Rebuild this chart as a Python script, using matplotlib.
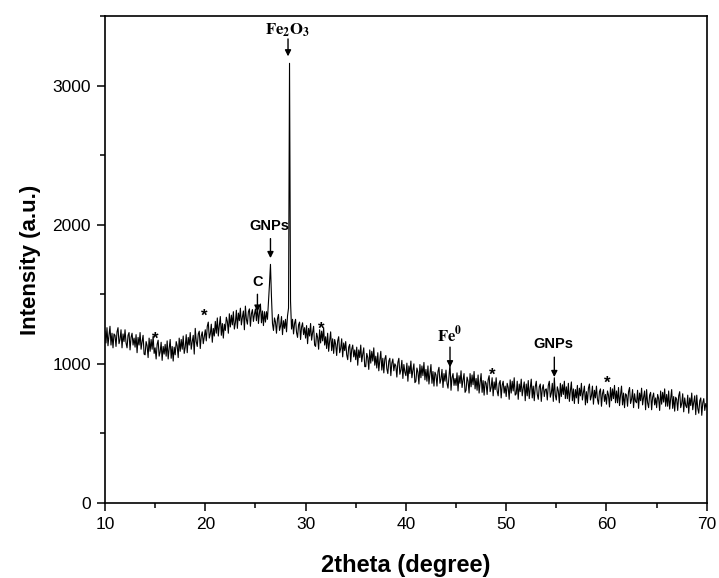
import numpy as np
import matplotlib
matplotlib.use("Agg")
import matplotlib.pyplot as plt
from matplotlib.ticker import MultipleLocator

plt.rcParams['font.family'] = ['Liberation Sans', 'DejaVu Sans']
plt.rcParams['mathtext.fontset'] = 'stix'

# 2theta from 10 to 70 in 0.1 degree steps
theta_start, theta_step = 10.0, 0.1
intensity = [
    1235, 1150, 1260, 1130, 1205, 1270, 1135, 1220, 1115, 1215,
    1205, 1125, 1230, 1260, 1145, 1175, 1245, 1115, 1215, 1160,
    1245, 1150, 1115, 1205, 1225, 1100, 1190, 1220, 1135, 1185,
    1120, 1210, 1080, 1190, 1135, 1225, 1105, 1160, 1205, 1070,
    1065, 1160, 1130, 1045, 1185, 1090, 1175, 1105, 1200, 1075,
    1115, 1035, 1140, 1170, 1055, 1085, 1155, 1025, 1125, 1070,
    1140, 1055, 1165, 1035, 1110, 1175, 1040, 1125, 1020, 1120,
    1065, 1160, 1130, 1045, 1185, 1090, 1175, 1105, 1200, 1075,
    1120, 1210, 1080, 1190, 1135, 1225, 1105, 1160, 1205, 1070,
    1255, 1160, 1125, 1215, 1235, 1110, 1200, 1230, 1145, 1195,
    1245, 1165, 1270, 1300, 1185, 1215, 1285, 1155, 1255, 1200,
    1305, 1220, 1330, 1200, 1275, 1340, 1205, 1290, 1185, 1285,
    1240, 1335, 1305, 1220, 1360, 1265, 1350, 1280, 1375, 1250,
    1295, 1385, 1255, 1365, 1310, 1400, 1280, 1335, 1380, 1245,
    1415, 1320, 1285, 1375, 1395, 1270, 1360, 1390, 1305, 1355,
    1395, 1310, 1420, 1290, 1365, 1430, 1295, 1380, 1275, 1375,
    1300, 1375, 1320, 1440, 1570, 1715, 1480, 1290, 1240, 1330,
    1300, 1220, 1325, 1355, 1240, 1270, 1340, 1210, 1310, 1255,
    1320, 1230, 1345, 1400, 3160, 1450, 1250, 1320, 1215, 1290,
    1320, 1225, 1190, 1280, 1300, 1175, 1265, 1295, 1210, 1260,
    1185, 1275, 1145, 1255, 1200, 1290, 1170, 1225, 1270, 1135,
    1125, 1220, 1190, 1105, 1245, 1150, 1235, 1165, 1260, 1135,
    1195, 1110, 1220, 1090, 1165, 1230, 1095, 1180, 1075, 1175,
    1140, 1060, 1165, 1195, 1080, 1110, 1180, 1050, 1150, 1095,
    1160, 1065, 1030, 1120, 1140, 1015, 1105, 1135, 1050, 1100,
    1030, 1120, 990, 1100, 1045, 1135, 1015, 1070, 1115, 980,
    980, 1075, 1045, 960, 1100, 1005, 1090, 1020, 1115, 990,
    1055, 970, 1080, 950, 1025, 1090, 955, 1040, 935, 1035,
    1060, 965, 930, 1020, 1040, 915, 1005, 1035, 950, 1000,
    985, 905, 1010, 1040, 925, 955, 1025, 895, 995, 940,
    915, 1005, 875, 985, 930, 1020, 900, 955, 1000, 865,
    875, 970, 940, 855, 995, 900, 985, 915, 1010, 885,
    960, 875, 985, 855, 930, 995, 860, 945, 840, 940,
    920, 840, 945, 975, 860, 890, 960, 830, 930, 875,
    955, 860, 825, 915, 1000, 810, 900, 930, 845, 895,
    845, 935, 805, 915, 860, 950, 830, 885, 930, 795,
    810, 905, 875, 790, 930, 835, 920, 850, 945, 820,
    895, 810, 920, 790, 865, 930, 795, 880, 775, 875,
    860, 780, 885, 915, 800, 830, 900, 770, 870, 815,
    900, 805, 770, 860, 880, 755, 845, 875, 790, 840,
    765, 860, 830, 745, 885, 790, 875, 805, 900, 775,
    785, 875, 745, 855, 800, 890, 770, 825, 870, 735,
    855, 770, 880, 750, 825, 890, 755, 840, 735, 835,
    875, 780, 745, 835, 855, 730, 820, 850, 765, 815,
    820, 740, 845, 875, 760, 790, 860, 730, 900, 775,
    740, 835, 805, 720, 860, 765, 850, 780, 875, 750,
    835, 750, 860, 730, 805, 870, 735, 820, 715, 815,
    755, 845, 715, 825, 770, 860, 740, 795, 840, 705,
    800, 720, 825, 855, 740, 770, 840, 710, 810, 755,
    840, 745, 710, 800, 820, 695, 785, 815, 730, 780,
    710, 805, 775, 690, 830, 735, 820, 750, 845, 720,
    805, 720, 830, 700, 775, 840, 705, 790, 685, 785,
    775, 695, 800, 830, 715, 745, 815, 685, 785, 730,
    720, 810, 680, 790, 735, 825, 705, 760, 805, 670,
    815, 720, 685, 775, 795, 670, 760, 790, 705, 755,
    685, 780, 750, 665, 805, 710, 795, 725, 820, 695,
    780, 695, 805, 675, 750, 815, 680, 765, 660, 760,
    745, 665, 770, 800, 685, 715, 785, 655, 755, 700,
    685, 775, 645, 755, 700, 790, 670, 725, 770, 635,
    775, 680, 645, 735, 755, 630, 720, 750, 665, 715,
    690,
]
two_theta = theta_start + theta_step * np.arange(len(intensity))

# Peak labels: (text, text x, text y, arrow x, arrow tail y, arrow head y, style)
peak_labels = [
    (r'$\mathbf{Fe_2O_3}$', 28.2, 3400, 28.25, 3335, 3210, 'math'),
    ('GNPs', 26.35, 1990, 26.5, 1900, 1760, 'sans'),
    ('C', 25.2, 1590, 25.2, 1500, 1375, 'sans'),
    (r'$\mathbf{Fe^0}$', 44.4, 1210, 44.4, 1120, 975, 'math'),
    ('GNPs', 54.7, 1146, 54.8, 1048, 905, 'sans'),
]
star_x = [15.0, 19.9, 31.6, 48.6, 60.1]
star_y = [1175, 1340, 1245, 920, 862]

fig = plt.figure(figsize=(7.19, 5.78), dpi=100)
ax = fig.add_axes([0.146, 0.1298, 0.837, 0.8425])
ax.plot(two_theta, intensity, color='black', lw=0.8)

for txt, tx, ty, axx, y0, y1, style in peak_labels:
    if style == 'math':
        ax.text(tx, ty, txt, ha='center', va='center', fontsize=12)
    else:
        ax.text(tx, ty, txt, ha='center', va='center', fontsize=10.5,
                fontweight='bold')
    ax.annotate('', xy=(axx, y1), xytext=(axx, y0),
                arrowprops=dict(arrowstyle='-|>', color='black', lw=1.0,
                                mutation_scale=9, shrinkA=0, shrinkB=0))

for sx, sy in zip(star_x, star_y):
    ax.text(sx, sy, '*', ha='center', va='center', fontsize=12,
            fontweight='bold')

ax.set_xlim(10, 70)
ax.set_ylim(0, 3500)
ax.xaxis.set_major_locator(MultipleLocator(10))
ax.xaxis.set_minor_locator(MultipleLocator(5))
ax.yaxis.set_major_locator(MultipleLocator(1000))
ax.yaxis.set_minor_locator(MultipleLocator(500))
ax.tick_params(which='major', direction='out', length=6, width=1.1,
               labelsize=12.5, pad=4)
ax.tick_params(which='minor', direction='out', length=3.5, width=1.1)
for s in ax.spines.values():
    s.set_linewidth(1.2)

ax.set_xlabel('2theta (degree)', fontsize=17, fontweight='bold', labelpad=16)
ax.set_ylabel('Intensity (a.u.)', fontsize=16, fontweight='bold', labelpad=8)

fig.savefig('out.png', dpi=100)
